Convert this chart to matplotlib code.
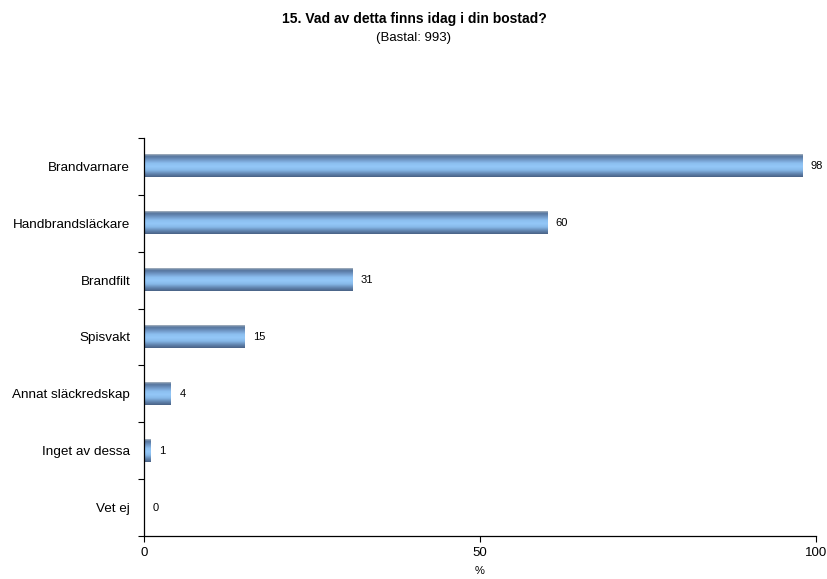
import numpy as np
import matplotlib
matplotlib.use('Agg')
from matplotlib import pyplot as plt
from matplotlib.colors import LinearSegmentedColormap

plt.rcParams['font.family'] = ['Liberation Sans', 'DejaVu Sans']

# Data
categories = ['Brandvarnare', 'Handbrandsläckare', 'Brandfilt', 'Spisvakt',
              'Annat släckredskap', 'Inget av dessa', 'Vet ej']
values = [98, 60, 31, 15, 4, 1, 0]
xticks = [0, 50, 100]

fig = plt.figure(figsize=(8.28, 5.79), dpi=100)
ax = fig.add_axes([0.174, 0.0743, 0.8115, 0.6874])

y = np.arange(len(categories))
bars = ax.barh(y, values, height=0.39, color='none', edgecolor='none')

# gradient for the bars: dark edges, light middle, greyish top line
cmap = LinearSegmentedColormap.from_list('bar', [
    (0.0, '#4a6286'), (0.12, '#5e80aa'), (0.3, '#86b8e8'), (0.45, '#94c8f8'),
    (0.6, '#8cbff0'), (0.78, '#6c92c0'), (0.9, '#56769e'), (0.94, '#6a86a8'),
    (1.0, '#aab4be')])
grad = np.linspace(0, 1, 64).reshape(-1, 1)
for b in bars:
    x0, y0 = b.get_x(), b.get_y()
    w, h = b.get_width(), b.get_height()
    if w <= 0:
        continue
    ax.imshow(grad, cmap=cmap, aspect='auto', origin='lower',
              extent=(x0 + 0.15, x0 + w, y0 + h, y0), zorder=2,
              interpolation='bilinear')

for yi, v in zip(y, values):
    ax.annotate(str(v), (v, yi), xytext=(6, 0), textcoords='offset points',
                va='center', ha='left', fontsize=8)

ax.set_ylim(len(categories) - 0.5, -0.5)
ax.set_xlim(0, 100)
ax.set_xticks(xticks)
ax.set_xticklabels([str(t) for t in xticks], fontsize=9.5)
ax.set_yticks(y)
ax.set_yticklabels(categories, fontsize=9.7)
ax.set_yticks(np.arange(-0.5, len(categories), 1), minor=True)
ax.tick_params(axis='y', which='major', length=0, pad=10)
ax.tick_params(axis='y', which='minor', length=4, width=0.8, direction='out')
ax.tick_params(axis='x', length=4, width=0.8, direction='out', pad=4)
ax.set_xlabel('%', fontsize=8, labelpad=5)
for s in ['top', 'right']:
    ax.spines[s].set_visible(False)
for s in ['left', 'bottom']:
    ax.spines[s].set_linewidth(0.9)

fig.text(0.5, 0.967, '15. Vad av detta finns idag i din bostad?', ha='center',
         va='center', fontsize=10, fontweight='bold')
fig.text(0.5, 0.934, '(Bastal: 993)', ha='center', va='center', fontsize=9.5)

fig.savefig('out.png', dpi=100)
